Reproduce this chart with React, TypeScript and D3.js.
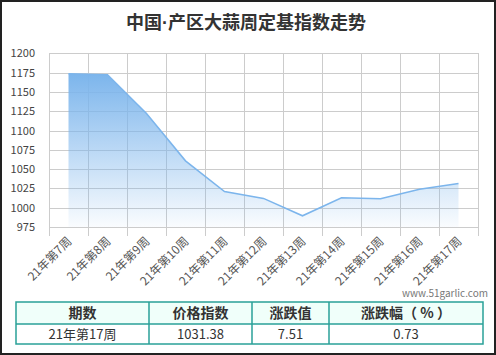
import React, { useEffect, useRef } from 'react';
import * as d3 from 'd3';

const weeks = ['21年第7周', '21年第8周', '21年第9周', '21年第10周', '21年第11周', '21年第12周',
  '21年第13周', '21年第14周', '21年第15周', '21年第16周', '21年第17周'];
const indexValues = [1173.5, 1172.3, 1122, 1060.7, 1021, 1012, 989.5, 1012.8, 1011.5, 1023.87, 1031.38];
const yTicks = [975, 1000, 1025, 1050, 1075, 1100, 1125, 1150, 1175, 1200];
const tableHeads = ['期数', '价格指数', '涨跌值', '涨跌幅（ % ）'];
const tableRow = ['21年第17周', '1031.38', '7.51', '0.73'];

const W = 496;
const H = 355;
const font = '"Noto Sans CJK SC", "Noto Sans", sans-serif';

export default function App() {
  const ref = useRef<SVGSVGElement>(null);

  useEffect(() => {
    const svg = d3.select(ref.current);
    svg.selectAll('*').remove();

    // frame
    svg.append('rect')
      .attr('x', 1).attr('y', 1)
      .attr('width', W - 2).attr('height', H - 2)
      .attr('fill', '#fff')
      .attr('stroke', '#222')
      .attr('stroke-width', 2);

    const title = svg.append('text')
      .attr('x', 246).attr('y', 29)
      .attr('text-anchor', 'middle')
      .attr('font-family', font)
      .attr('font-size', 18)
      .attr('font-weight', 'bold')
      .attr('fill', '#333');
    title.append('tspan').text('中国');
    title.append('tspan').attr('font-family', '"Liberation Sans", sans-serif').text('·');
    title.append('tspan').text('产区大蒜周定基指数走势');

    const x = d3.scaleBand().domain(weeks).range([49, 478]);
    const y = d3.scaleLinear().domain([975, 1200]).range([227, 53.3]);
    const cx = (d: string) => (x(d) as number) + x.bandwidth() / 2;

    const defs = svg.append('defs');
    const grad = defs.append('linearGradient')
      .attr('id', 'areaGrad')
      .attr('x1', 0).attr('y1', 0).attr('x2', 0).attr('y2', 1);
    grad.append('stop').attr('offset', '0%').attr('stop-color', '#7cb5ec').attr('stop-opacity', 1);
    grad.append('stop').attr('offset', '100%').attr('stop-color', '#7cb5ec').attr('stop-opacity', 0.04);

    // horizontal grid
    svg.selectAll('.hgrid')
      .data(yTicks)
      .enter()
      .append('line')
      .attr('x1', 49).attr('x2', 478)
      .attr('y1', d => Math.round(y(d)) + 0.5)
      .attr('y2', d => Math.round(y(d)) + 0.5)
      .attr('stroke', '#cccccc');

    // vertical grid (band edges) with tick extension
    const edges = weeks.map(d => x(d) as number).concat([478]);
    svg.selectAll('.vgrid')
      .data(edges)
      .enter()
      .append('line')
      .attr('x1', d => Math.round(d) + 0.5).attr('x2', d => Math.round(d) + 0.5)
      .attr('y1', 53).attr('y2', 236)
      .attr('stroke', '#cccccc');

    // y labels
    svg.selectAll('.ylab')
      .data(yTicks)
      .enter()
      .append('text')
      .attr('x', 35)
      .attr('y', d => y(d) + 4)
      .attr('text-anchor', 'end')
      .attr('font-family', font)
      .attr('font-size', 11)
      .attr('fill', '#444')
      .text(d => d);

    const data = weeks.map((w, i) => ({ w, v: indexValues[i] }));

    const area = d3.area<{ w: string; v: number }>()
      .x(d => cx(d.w))
      .y0(y(975))
      .y1(d => y(d.v));

    svg.append('path')
      .datum(data)
      .attr('d', area)
      .attr('fill', 'url(#areaGrad)');

    const line = d3.line<{ w: string; v: number }>()
      .x(d => cx(d.w))
      .y(d => y(d.v));

    svg.append('path')
      .datum(data)
      .attr('d', line)
      .attr('fill', 'none')
      .attr('stroke', '#7cb5ec')
      .attr('stroke-width', 1.5);

    // x labels
    svg.selectAll('.xlab')
      .data(weeks)
      .enter()
      .append('text')
      .attr('transform', d => `translate(${cx(d) + 4},${242}) rotate(-45)`)
      .attr('text-anchor', 'end')
      .attr('font-family', font)
      .attr('font-size', 12)
      .attr('fill', '#555')
      .text(d => d);

    svg.append('text')
      .attr('x', 488).attr('y', 297)
      .attr('text-anchor', 'end')
      .attr('font-family', font)
      .attr('font-size', 10)
      .attr('fill', '#777')
      .text('www.51garlic.com');

    // table
    const colX = [16, 149, 252, 329, 483];
    const rowY = [302, 324, 344];
    svg.append('rect')
      .attr('x', colX[0]).attr('y', rowY[0])
      .attr('width', colX[4] - colX[0]).attr('height', rowY[1] - rowY[0])
      .attr('fill', '#f0fffa');
    svg.append('rect')
      .attr('x', colX[0]).attr('y', rowY[0])
      .attr('width', colX[4] - colX[0]).attr('height', rowY[2] - rowY[0])
      .attr('fill', 'none')
      .attr('stroke', '#2aa198')
      .attr('stroke-width', 1.5);
    svg.append('line')
      .attr('x1', colX[0]).attr('x2', colX[4])
      .attr('y1', rowY[1]).attr('y2', rowY[1])
      .attr('stroke', '#2aa198').attr('stroke-width', 1.5);
    colX.slice(1, 4).forEach(cxx => {
      svg.append('line')
        .attr('x1', cxx).attr('x2', cxx)
        .attr('y1', rowY[0]).attr('y2', rowY[2])
        .attr('stroke', '#2aa198').attr('stroke-width', 1.5);
    });
    tableHeads.forEach((t, i) => {
      svg.append('text')
        .attr('x', (colX[i] + colX[i + 1]) / 2)
        .attr('y', 318)
        .attr('text-anchor', 'middle')
        .attr('font-family', font)
        .attr('font-size', 14)
        .attr('font-weight', 'bold')
        .attr('fill', '#333')
        .text(t);
    });
    tableRow.forEach((t, i) => {
      svg.append('text')
        .attr('x', (colX[i] + colX[i + 1]) / 2)
        .attr('y', 339)
        .attr('text-anchor', 'middle')
        .attr('font-family', font)
        .attr('font-size', 13)
        .attr('fill', '#333')
        .text(t);
    });
  }, []);

  return (
    <div style={{ position: 'absolute', left: 0, top: 0 }}>
      <svg ref={ref} width={W} height={H} style={{ display: 'block' }} />
    </div>
  );
}
